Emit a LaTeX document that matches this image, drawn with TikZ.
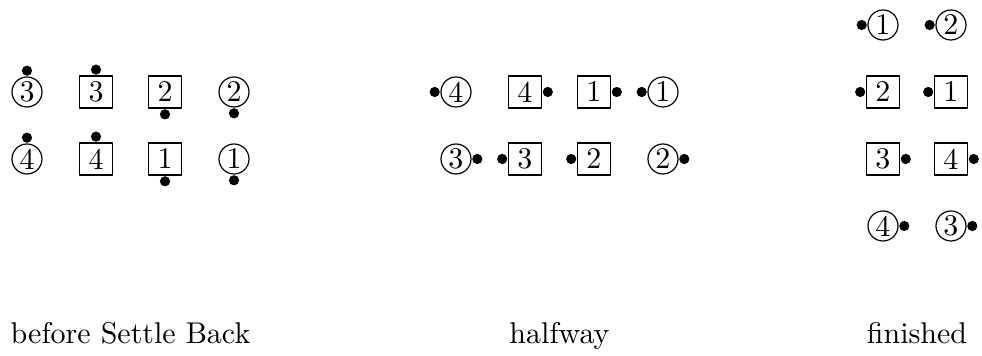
\documentclass[tikz,border=0pt]{standalone}
\usetikzlibrary{positioning}

\tikzset{
  boy/.style={draw,thin,rectangle,inner sep=0pt,minimum width=11pt,minimum height=10.7pt},
  girl/.style={draw,thin,circle,inner sep=0pt,minimum size=10pt},
  nose/.style={fill,circle,inner sep=0pt,minimum size=3.4pt},
}

\begin{document}
\begin{tikzpicture}[x=0.33333pt,y=0.33333pt,line join=round,line cap=round]
  \useasboundingbox (0,0) rectangle (982,356);
  % name/style/number/x/y/facing/opposite
  \foreach \n/\s/\d/\x/\y/\f/\a in {
      bg3/girl/3/27/264/north/south, bb3/boy/3/96/264/north/south,
      bb2/boy/2/165/264/south/north, bg2/girl/2/234/264/south/north,
      bg4/girl/4/27/197/north/south, bb4/boy/4/96/197/north/south,
      bb1/boy/1/165/197/south/north, bg1/girl/1/234/197/south/north,
      hg4/girl/4/456/264/west/east, hb4/boy/4/525/264/east/west,
      hb1/boy/1/594/264/east/west, hg1/girl/1/663/264/west/east,
      hg3/girl/3/456/197/east/west, hb3/boy/3/525/197/west/east,
      hb2/boy/2/594/197/west/east, hg2/girl/2/663/197/east/west,
      fg1/girl/1/883/331/west/east, fg2/girl/2/951/331/west/east,
      fb2/boy/2/883/264/west/east, fb1/boy/1/951/264/west/east,
      fb3/boy/3/883/197/east/west, fb4/boy/4/951/197/east/west,
      fg4/girl/4/883/130/east/west, fg3/girl/3/951/130/east/west}
  {
    \node[\s] (\n) at (\x,\y) {\d};
    \node[nose,anchor=\a] (\n-nose) at (\n.\f) {};
  }
  \node[anchor=base] (before) at (130.5,12) {before Settle Back};
  \node[anchor=base] (halfway) at (559.5,12) {halfway};
  \node[anchor=base] (finished) at (917,12) {finished};
\end{tikzpicture}
\end{document}
